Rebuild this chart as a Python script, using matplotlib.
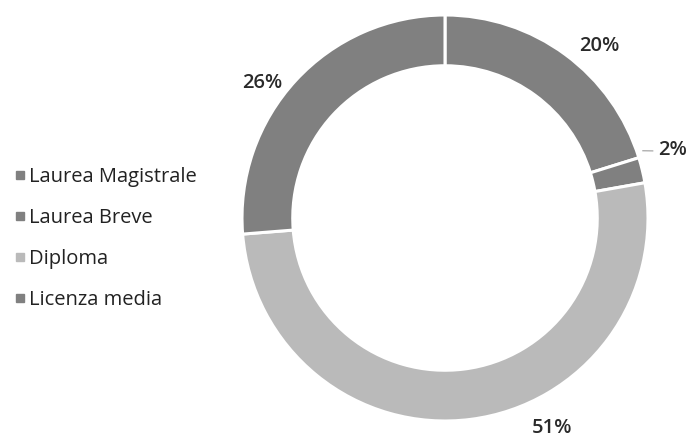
import matplotlib
matplotlib.use("Agg")
import matplotlib.pyplot as plt
import numpy as np
from matplotlib.lines import Line2D

categories = ["Laurea Magistrale", "Laurea Breve", "Diploma", "Licenza media"]
shares = [20, 2, 51, 26]
pct_labels = ["20%", "2%", "51%", "26%"]

DARK = "#808080"
LIGHT = "#bababa"
colors = [DARK, DARK, LIGHT, DARK]
# label placement tweaks (angle shift in degrees, radius in units of R)
label_shift = [-5.5, 3, 19.7, 6.3]
label_rad = [1.14, 1.17, 1.16, 1.12]

plt.rcParams["font.family"] = ["Open Sans", "DejaVu Sans"]

W, H = 689, 437
R_PX = 203
CX, CY = 445, 437 - 218
fig = plt.figure(figsize=(W / 100, H / 100), dpi=100)
xl, yl = 1.6, 1.15
ax = fig.add_axes([(CX - xl * R_PX) / W, (CY - yl * R_PX) / H,
                   2 * xl * R_PX / W, 2 * yl * R_PX / H])

wedges, _ = ax.pie(shares, colors=colors, startangle=90, counterclock=False,
                   radius=1.0, wedgeprops=dict(width=0.25, edgecolor="white", linewidth=2.2),
                   frame=True)
ax.set_xlim(-xl, xl)
ax.set_ylim(-yl, yl)
ax.axis("off")

for w, txt, sh, rad in zip(wedges, pct_labels, label_shift, label_rad):
    mid = np.deg2rad((w.theta1 + w.theta2) / 2 + sh)
    ax.text(rad * np.cos(mid), rad * np.sin(mid), txt, ha="center", va="center",
            fontsize=14.5, fontweight="semibold", color="#2a2a2a", clip_on=False)

# leader line for the small slice
a = np.deg2rad(wedges[1].theta2 + 1.5)
ax.plot([1.03 * np.cos(a), 1.075 * np.cos(a - 0.015)],
        [1.03 * np.sin(a), 1.075 * np.sin(a - 0.015)], color="#b0b0b0", lw=1)

handles = [Line2D([], [], marker="s", ls="none", color=c, markersize=5.5) for c in colors]
fig.legend(handles, categories, loc="upper left", bbox_to_anchor=(-0.004, 0.66),
           frameon=False, fontsize=14.5, handlelength=0.5, handletextpad=0.2,
           labelspacing=1.05, labelcolor="#222222")

fig.savefig("out.png", dpi=100)
